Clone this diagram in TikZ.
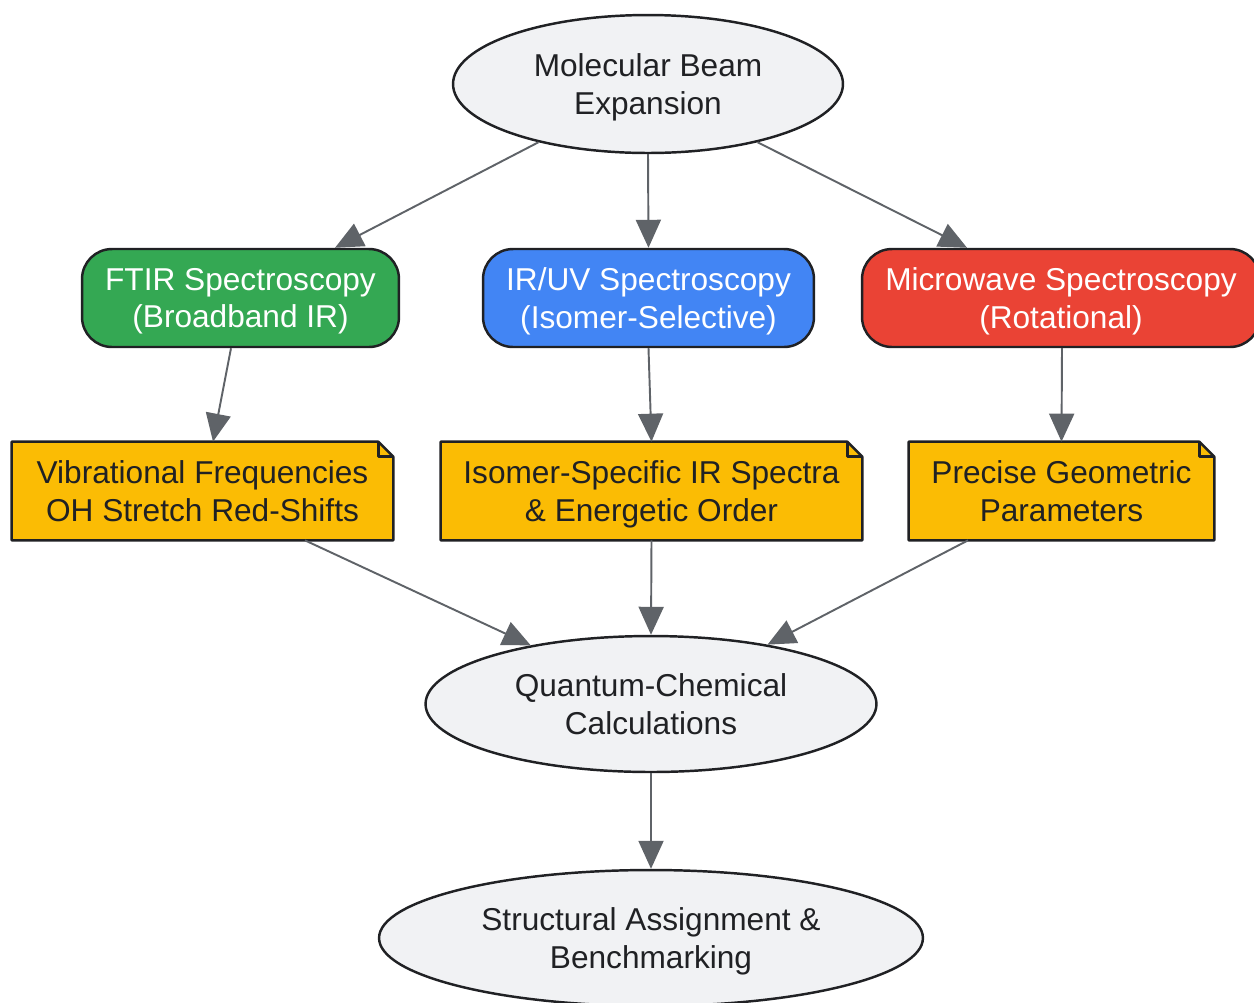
\documentclass[tikz,border=0pt]{standalone}
\usepackage{fontspec}
\setmainfont{Liberation Sans}
\usetikzlibrary{shapes.geometric,arrows.meta}

\definecolor{bggray}{HTML}{F1F2F4}
\definecolor{inkdark}{HTML}{202124}
\definecolor{linegray}{HTML}{5F6368}
\definecolor{gGreen}{HTML}{34A853}
\definecolor{gBlue}{HTML}{4285F4}
\definecolor{gRed}{HTML}{EA4335}
\definecolor{gYellow}{HTML}{FBBC04}

\newcommand{\dogear}[1]{%
    \fill[white] ([xshift=-0.3cm]#1.north east) -- (#1.north east) -- ([yshift=-0.3cm]#1.north east) -- cycle;
    \draw[inkdark,line width=1.4pt,line join=round] (#1.south west) -- (#1.north west)
        -- ([xshift=-0.3cm]#1.north east) -- ([yshift=-0.3cm]#1.north east)
        -- (#1.south east) -- cycle;
    \draw[inkdark,line width=1.4pt,line join=round] ([xshift=-0.3cm]#1.north east)
        -- ([xshift=-0.3cm,yshift=-0.3cm]#1.north east) -- ([yshift=-0.3cm]#1.north east);
}

\begin{document}
\begin{tikzpicture}[
        x=0.02cm, y=-0.02cm,
        font=\fontsize{18}{21.5}\selectfont,
        oval/.style={ellipse, draw=inkdark, line width=1.4pt, fill=bggray,
            text=inkdark, inner sep=0pt, align=center, text depth=0pt},
        method/.style={rectangle, rounded corners=0.6cm, draw=inkdark, line width=1.4pt,
            text=white, minimum height=1.96cm, inner sep=0pt, align=center, text depth=0pt},
        result/.style={rectangle, fill=gYellow, text=inkdark,
            minimum height=1.96cm, inner sep=0pt, align=center, text depth=0pt},
        flow/.style={linegray, line width=1.1pt, -{Triangle[length=0.56cm,width=0.5cm]}}
    ]
    \useasboundingbox (0,0) rectangle (1254,1002);

    % source
    \node[oval, minimum width=7.8cm, minimum height=2.76cm] (beam) at (648,84)
        {Molecular Beam\\Expansion};

    % spectroscopic methods
    \node[method, fill=gGreen, minimum width=6.34cm] (ftir) at (240.5,298)
        {FTIR Spectroscopy\\(Broadband IR)};
    \node[method, fill=gBlue, minimum width=6.62cm] (iruv) at (648.5,298)
        {IR/UV Spectroscopy\\(Isomer-Selective)};
    \node[method, fill=gRed, minimum width=7.96cm] (mw) at (1061,298)
        {Microwave Spectroscopy\\(Rotational)};

    % observables
    \node[result, minimum width=7.62cm] (vib) at (202.5,491)
        {Vibrational Frequencies\\OH Stretch Red-Shifts};
    \dogear{vib}
    \node[result, minimum width=8.42cm] (iso) at (651.5,491)
        {Isomer-Specific IR Spectra\\\& Energetic Order};
    \dogear{iso}
    \node[result, minimum width=6.1cm] (geo) at (1061.5,491)
        {Precise Geometric\\Parameters};
    \dogear{geo}

    % theory and outcome
    \node[oval, minimum width=9.02cm, minimum height=2.72cm] (qc) at (651,704)
        {Quantum-Chemical\\Calculations};
    \node[oval, minimum width=10.88cm, minimum height=2.72cm] (bench) at (651,938)
        {Structural Assignment \&\\Benchmarking};

    \draw[flow] (beam.208.5) -- ([xshift=1.89cm]ftir.north);
    \draw[flow] (beam.south) -- (iruv.north);
    \draw[flow] (beam.332) -- ([xshift=-1.88cm]mw.north);
    \draw[flow] ([xshift=-0.19cm]ftir.south) -- ([xshift=0.21cm]vib.north);
    \draw[flow] (iruv.south) -- (iso.north);
    \draw[flow] ([xshift=0.02cm]mw.south) -- (geo.north);
    \draw[flow] ([xshift=2.05cm]vib.south) -- (qc.154);
    \draw[flow] (iso.south) -- (qc.north);
    \draw[flow] ([xshift=-1.87cm]geo.south) -- (qc.27.7);
    \draw[flow] (qc.south) -- (bench.north);
\end{tikzpicture}
\end{document}
